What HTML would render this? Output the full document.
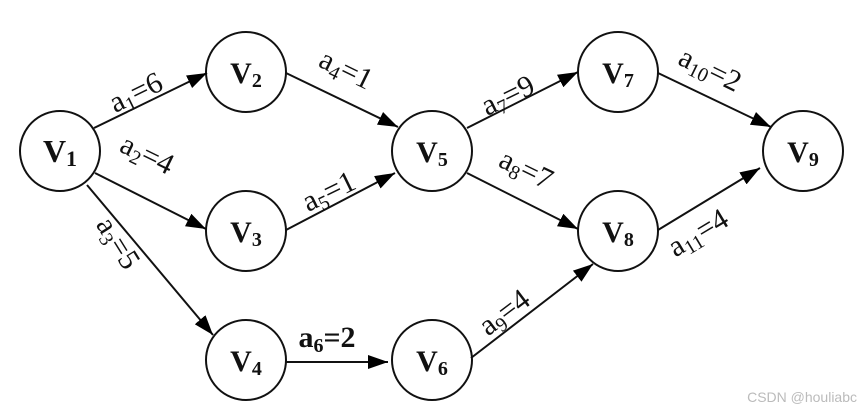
<!DOCTYPE html>
<html><head><meta charset="utf-8"><style>
html,body{margin:0;padding:0;background:#fff;}
svg{display:block;}
text{font-family:"Liberation Serif",serif;fill:#111;}
</style></head><body>
<svg width="861" height="411" viewBox="0 0 861 411" xmlns="http://www.w3.org/2000/svg">
<defs>
<marker id="ar" markerWidth="20" markerHeight="14" refX="20" refY="7" orient="auto" markerUnits="userSpaceOnUse" viewBox="0 0 20 14">
<path d="M0,0 L20,7 L0,14 Z" fill="#000"/></marker>
</defs>
<g stroke="#111" stroke-width="2" fill="none">
<circle cx="60" cy="151" r="40"/>
<circle cx="246" cy="72" r="40"/>
<circle cx="246" cy="231" r="40"/>
<circle cx="246" cy="360" r="40"/>
<circle cx="432" cy="151" r="40"/>
<circle cx="432" cy="360" r="40"/>
<circle cx="618" cy="72" r="40"/>
<circle cx="618" cy="231" r="40"/>
<circle cx="803" cy="151" r="40"/>
</g>
<g stroke="#111" stroke-width="2" marker-end="url(#ar)">
<line x1="94" y1="128" x2="207" y2="73"/>
<line x1="95" y1="173" x2="206" y2="229"/>
<line x1="87" y1="185" x2="213" y2="335"/>
<line x1="286" y1="73" x2="398" y2="127"/>
<line x1="286" y1="230" x2="395" y2="173"/>
<line x1="286" y1="362" x2="388" y2="362"/>
<line x1="467" y1="128" x2="578" y2="72"/>
<line x1="467" y1="173" x2="578" y2="229"/>
<line x1="471" y1="358" x2="593" y2="264"/>
<line x1="658" y1="73" x2="771" y2="127"/>
<line x1="658" y1="230" x2="760" y2="168"/>
</g>
<g font-size="30">
<text x="60" y="162" text-anchor="middle" font-size="32" font-weight="bold">V<tspan font-size="22" dy="4">1</tspan></text>
<text x="246" y="83" text-anchor="middle" font-size="30" font-weight="bold">V<tspan font-size="20" dy="4">2</tspan></text>
<text x="246" y="242" text-anchor="middle" font-size="30" font-weight="bold">V<tspan font-size="20" dy="4">3</tspan></text>
<text x="246" y="371" text-anchor="middle" font-size="30" font-weight="bold">V<tspan font-size="20" dy="4">4</tspan></text>
<text x="432" y="162" text-anchor="middle" font-size="30" font-weight="bold">V<tspan font-size="20" dy="4">5</tspan></text>
<text x="432" y="371" text-anchor="middle" font-size="30" font-weight="bold">V<tspan font-size="20" dy="4">6</tspan></text>
<text x="618" y="83" text-anchor="middle" font-size="30" font-weight="bold">V<tspan font-size="20" dy="4">7</tspan></text>
<text x="618" y="242" text-anchor="middle" font-size="30" font-weight="bold">V<tspan font-size="20" dy="4">8</tspan></text>
<text x="803" y="162" text-anchor="middle" font-size="30" font-weight="bold">V<tspan font-size="20" dy="4">9</tspan></text>

<text transform="translate(140,101) rotate(-26)" text-anchor="middle">a<tspan font-size="20" dy="5">1</tspan><tspan dy="-5">=6</tspan></text>
<text transform="translate(143,163) rotate(26)" text-anchor="middle">a<tspan font-size="20" dy="5">2</tspan><tspan dy="-5">=4</tspan></text>
<text transform="translate(110,248) rotate(58)" text-anchor="middle">a<tspan font-size="20" dy="5">3</tspan><tspan dy="-5">=5</tspan></text>
<text transform="translate(342,78) rotate(26)" text-anchor="middle">a<tspan font-size="20" dy="5">4</tspan><tspan dy="-5">=1</tspan></text>
<text transform="translate(333,200) rotate(-26)" text-anchor="middle">a<tspan font-size="20" dy="5">5</tspan><tspan dy="-5">=1</tspan></text>
<text x="327" y="347" text-anchor="middle" font-weight="bold">a<tspan font-size="20" dy="5">6</tspan><tspan dy="-5">=2</tspan></text>
<text transform="translate(512,104) rotate(-26)" text-anchor="middle">a<tspan font-size="20" dy="5">7</tspan><tspan dy="-5">=9</tspan></text>
<text transform="translate(522,178) rotate(26)" text-anchor="middle">a<tspan font-size="20" dy="5">8</tspan><tspan dy="-5">=7</tspan></text>
<text transform="translate(510,320) rotate(-37)" text-anchor="middle">a<tspan font-size="20" dy="5">9</tspan><tspan dy="-5">=4</tspan></text>
<text transform="translate(706,78) rotate(26)" text-anchor="middle">a<tspan font-size="20" dy="5">10</tspan><tspan dy="-5">=2</tspan></text>
<text transform="translate(703,241) rotate(-31)" text-anchor="middle">a<tspan font-size="20" dy="5">11</tspan><tspan dy="-5">=4</tspan></text>
</g>
<text x="857" y="402" text-anchor="end" font-size="14" style="font-family:'Liberation Sans',sans-serif;fill:#bbb">CSDN @houliabc</text>
</svg>
</body></html>
